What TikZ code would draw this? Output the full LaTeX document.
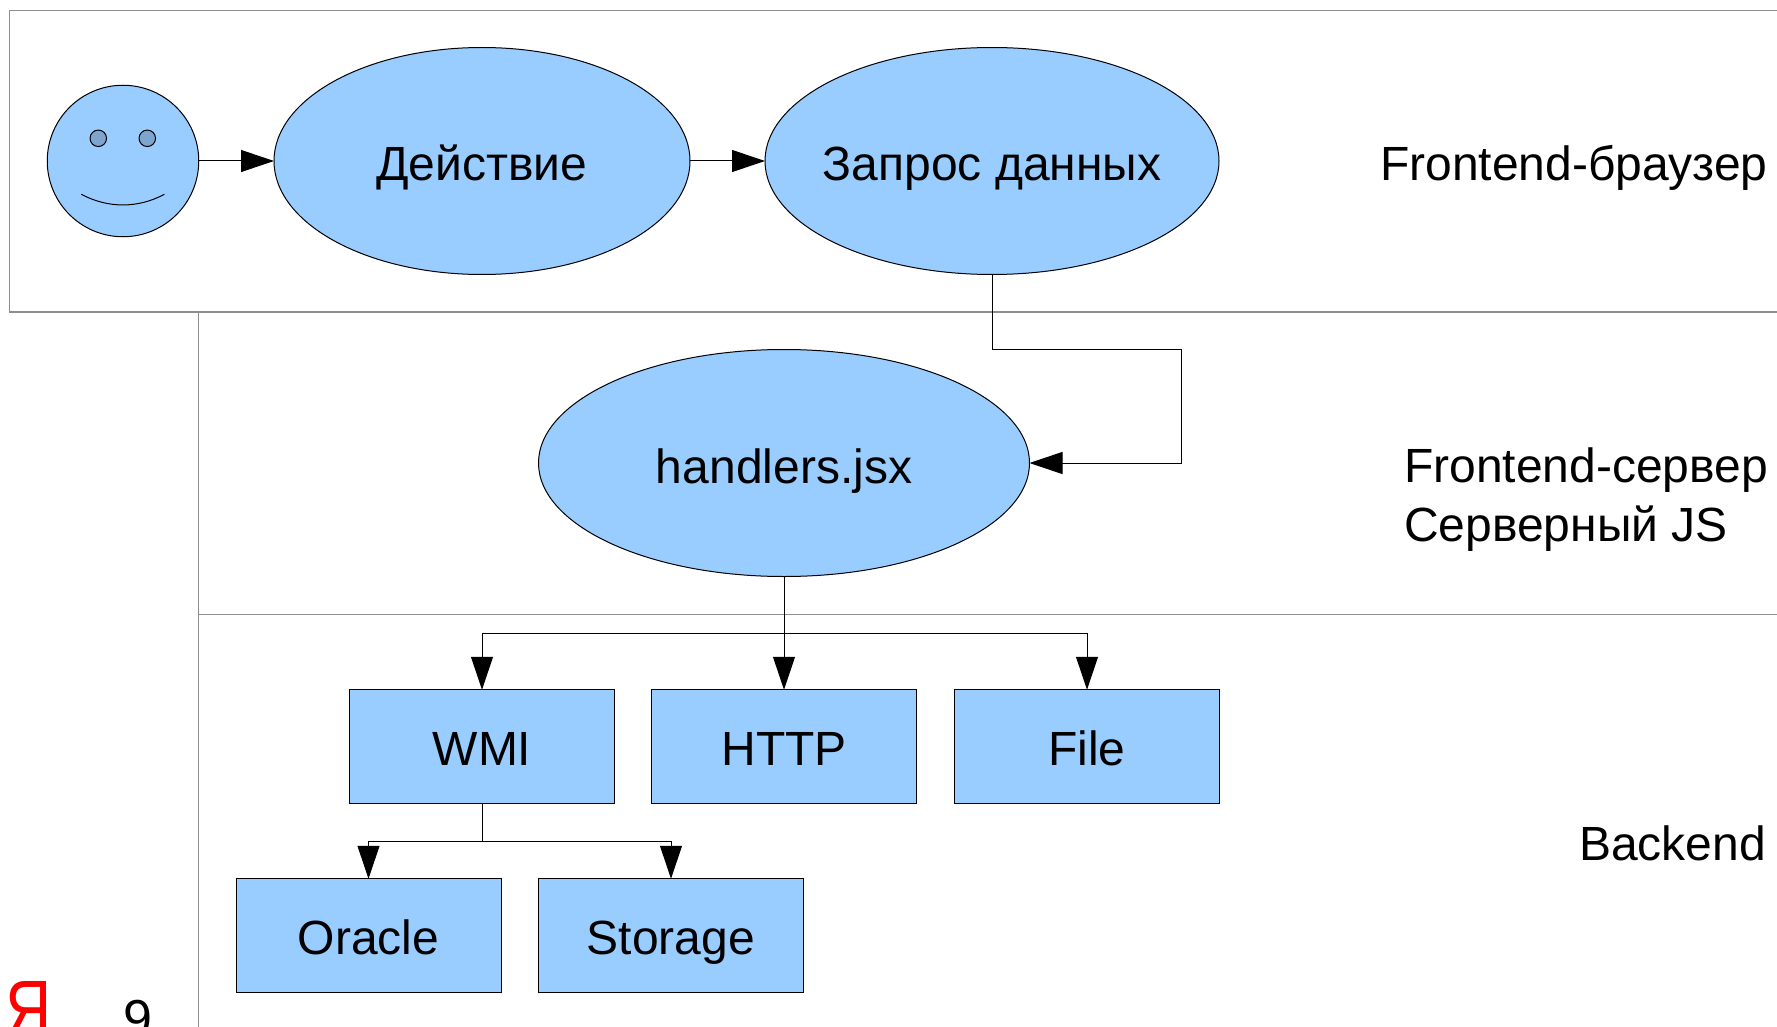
\documentclass[tikz,border=0pt]{standalone}
\usepackage{fontspec}
\setmainfont{Liberation Sans}
\usetikzlibrary{arrows.meta,shapes.geometric}
\definecolor{shapeblue}{HTML}{99CCFF}
\definecolor{eyeblue}{HTML}{7DA5CE}
\definecolor{framegray}{HTML}{8E8E8E}
\tikzset{
  bubble/.style={ellipse,draw=black,fill=shapeblue,line width=1pt,inner ysep=0pt,inner xsep=-20pt,outer sep=0pt,minimum height=227pt,text height=40pt,text depth=0pt},
  block/.style={rectangle,draw=black,fill=shapeblue,line width=1pt,inner sep=0pt,outer sep=0pt,minimum width=265pt,minimum height=113.5pt,text height=38pt,text depth=0pt},
  eye/.style={circle,draw=black,fill=eyeblue,line width=1pt,inner sep=0pt,outer sep=0pt,minimum size=16.5pt},
  layer/.style={draw=none,align=left,anchor=base west,inner sep=0pt},
  link/.style={line width=1pt,-{Triangle[length=33pt,width=22pt]}},
  wire/.style={line width=1pt},
  frame/.style={draw=framegray,line width=1.2pt}
}
\begin{document}
\begin{tikzpicture}[x=1pt,y=-1pt,font=\fontsize{48}{59}\selectfont]
  \useasboundingbox (0,0) rectangle (1777,1027);
  % layers
  \path [frame] (1777,10.5) -- (9.5,10.5) -- (9.5,312) -- (1777,312);
  \path [frame] (198.5,312) -- (198.5,1027);
  \path [frame] (198.5,614.5) -- (1777,614.5);
  % browser
  \node (face) at (123,161) [circle,draw=black,fill=shapeblue,line width=1pt,inner sep=0pt,outer sep=0pt,minimum size=151.5pt] {};
  \node (eyeleft)  at (98.3,138.3)  [eye] {};
  \node (eyeright) at (147.3,138.3) [eye] {};
  \draw [wire] (81.3,194.3) .. controls (108,208.5) and (138,208.5) .. (164.3,194.3);
  \node (action) at (482,161) [bubble,minimum width=416pt] {Действие};
  \node (query)  at (992,161) [bubble,minimum width=454pt] {Запрос данных};
  % server
  \node (handlers) at (784,463) [bubble,minimum width=491pt] {handlers.jsx};
  % backend
  \node (wmi)  at (482,746.5) [block] {WMI};
  \node (http) at (784,746.5) [block] {HTTP};
  \node (file) at (1087,746.5) [block] {File};
  \node (oracle)  at (368.5,935.5) [block] {Oracle};
  \node (storage) at (671,935.5) [block] {Storage};
  % captions
  \node (capbrowser) at (1380,181) [layer] {Frontend-браузер};
  \node (capserver)  at (1404,541) [layer] {Frontend-сервер\\Серверный JS};
  \node (capbackend) at (1579,860) [layer] {Backend};
  \node (pagelogo) at (29,1036) [text=red,inner sep=0pt,font=\fontsize{80}{80}\selectfont,xscale=0.8,anchor=base] {Я};
  \node (pagenum) at (138,1036) [inner sep=0pt,anchor=base,font=\fontsize{52}{52}\selectfont] {9};
  % links
  \coordinate (bendquery) at (1181,349.5);
  \coordinate (busmain) at (784,633.5);
  \coordinate (buswmi) at (482,841.5);
  \draw [link] (face) -- (action);
  \draw [link] (action) -- (query);
  \draw [link] (query.south) |- (bendquery) |- (handlers.east);
  \draw [wire] (handlers.south) -- (busmain);
  \draw [link] (busmain) -| (wmi.north);
  \draw [link] (busmain) -- (http.north);
  \draw [link] (busmain) -| (file.north);
  \draw [wire] (wmi.south) -- (buswmi);
  \draw [link] (buswmi) -| (oracle.north);
  \draw [link] (buswmi) -| (storage.north);
\end{tikzpicture}
\end{document}
